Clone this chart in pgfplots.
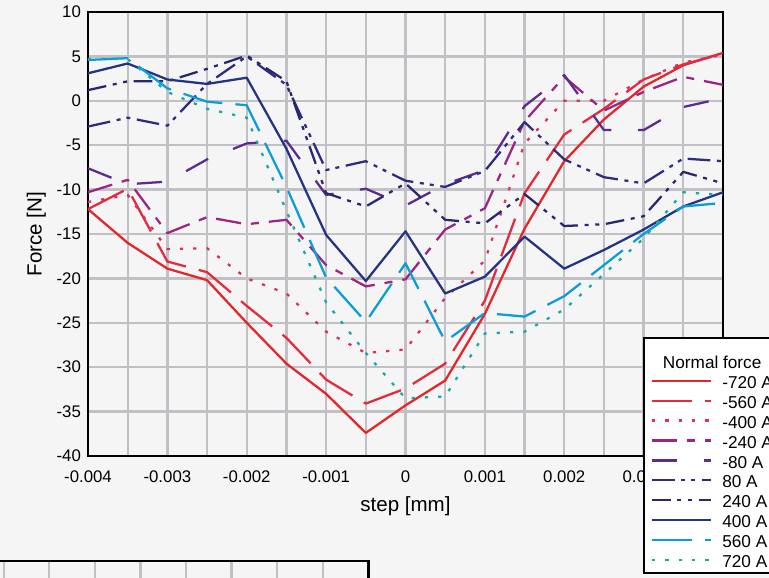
\documentclass[border=0pt]{standalone}
\usepackage{pgfplots}
\usepackage{pgfplotstable}
\pgfplotsset{compat=1.18}
\usepackage{fontspec}
\setmainfont{Liberation Sans}

\definecolor{bgcol}{HTML}{F5F5F5}
\definecolor{gridcol}{HTML}{C0C0C5}
\definecolor{cM720}{HTML}{E3262A}
\definecolor{cM560}{HTML}{E32B3B}
\definecolor{cM400}{HTML}{DA2E64}
\definecolor{cM240}{HTML}{9E2484}
\definecolor{cM80}{HTML}{5B2C8C}
\definecolor{cP80}{HTML}{2E2C7E}
\definecolor{cP240}{HTML}{28276F}
\definecolor{cP400}{HTML}{223482}
\definecolor{cP560}{HTML}{0C9DD9}
\definecolor{cP720}{HTML}{17A8A8}

\pgfplotstableread{
x       m720  m560  m400  m240  m80   p80   p240  p400  p560  p720
-0.004  -12.2 -12.2 -11.4 -10.3 -7.6  -2.9  1.2   3.1   4.6   4.7
-0.0035 -16.0 -9.9  -10.6 -8.9  -9.4  -1.9  2.2   4.2   4.8   4.7
-0.003  -18.9 -18.1 -16.7 -14.9 -9.1  -2.8  2.2   2.4   1.4   1.0
-0.0025 -20.2 -19.3 -16.6 -13.1 -6.6  1.9   3.6   1.9   -0.1  -0.9
-0.002  -25.0 -23.1 -20.0 -13.9 -4.8  5.0   5.1   2.6   -0.5  -1.9
-0.0015 -29.6 -26.7 -21.7 -13.4 -4.5  1.8   2.2   -5.4  -9.7  -12.4
-0.001  -33.0 -31.4 -26.0 -18.5 -10.6 -7.8  -10.4 -15.1 -19.9 -22.7
-0.0005 -37.4 -34.1 -28.4 -20.9 -9.9  -6.8  -11.9 -20.3 -24.9 -28.4
0       -34.3 -32.4 -28.0 -20.1 -11.8 -9.0  -9.3  -14.7 -18.3 -33.5
0.0005  -31.5 -29.6 -22.2 -14.5 -9.4  -9.7  -13.4 -21.7 -27.1 -33.3
0.001   -24.0 -22.5 -18.0 -12.1 -7.8  -7.9  -13.8 -19.8 -23.9 -26.2
0.0015  -14.4 -10.4 -4.8  -2.3  -0.6  -2.4  -10.5 -15.3 -24.3 -26.0
0.002   -6.8  -3.8  0.0   2.7   2.9   -6.6  -14.1 -18.9 -22.0 -23.5
0.0025  -2.1  -0.9  0.0   -1.1  -3.3  -8.6  -13.9 -16.8 -18.5 -19.5
0.003   1.6   2.4   2.4   1.0   -3.3  -9.3  -13.0 -14.5 -15.0 -15.5
0.0035  4.0   4.1   4.3   2.7   -0.7  -6.5  -8.0  -11.9 -11.9 -10.3
0.004   5.4   5.3   5.2   1.8   0.3   -6.8  -9.3  -10.3 -11.5 -10.6
}\forcedata

\begin{document}
\begin{tikzpicture}[x=1pt,y=1pt]
\useasboundingbox (0,0) rectangle (576.75,433.5);
\clip (0,0) rectangle (576.75,433.5);
\fill[bgcol] (0,0) rectangle (576.75,433.5);

% partial second chart at bottom left
\begin{axis}[
  at={(276.25pt,12.75pt)}, anchor=north east,
  scale only axis, width=341.9pt, height=60pt,
  xmin=-2, xmax=8, ymin=0, ymax=1,
  xtick={-2,-1,...,8}, ytick=\empty, xticklabels={},
  major tick length=0pt,
  xmajorgrids,
  grid style={gridcol, line width=1.7pt},
  axis line style={black, line width=1.8pt},
]
\end{axis}

\begin{axis}[
  at={(66pt,91.5pt)}, anchor=south west,
  scale only axis, width=476.25pt, height=333pt,
  xmin=-0.004, xmax=0.004, ymin=-40, ymax=10,
  scaled x ticks=false,
  xtick={-0.004,-0.003,-0.002,-0.001,0,0.001,0.002,0.003,0.004},
  xticklabels={-0.004,-0.003,-0.002,-0.001,0,0.001,0.002,0.003,0.004},
  minor x tick num=1,
  ytick={-40,-35,-30,-25,-20,-15,-10,-5,0,5,10},
  yticklabels={-40,-35,-30,-25,-20,-15,-10,-5,0,5,10},
  major tick length=0pt, minor tick length=0pt,
  grid=both,
  grid style={gridcol, line width=1.7pt},
  minor grid style={gridcol, line width=1.7pt},
  axis line style={black, line width=1.8pt},
  ticklabel style={font=\fontsize{12.6}{14}\selectfont},
  xticklabel style={yshift=-7.3pt},
  yticklabel style={xshift=-1.8pt},
  xlabel={step [mm]},
  ylabel={Force [N]},
  label style={font=\fontsize{15.4}{17}\selectfont},
  xlabel style={at={(axis description cs:0.5,-0.1254)}, anchor=base},
  ylabel style={at={(axis description cs:-0.0729,0.5)}, anchor=base},
  legend image code/.code={\draw[#1] (0pt,2pt) -- (44pt,2pt);},
  legend style={
    at={(axis description cs:0.8745,0.268)}, anchor=north west,
    draw=black, line width=1.5pt, fill=white,
    font=\fontsize{12.9}{15}\selectfont,
    inner xsep=5pt, inner ysep=1pt,
    row sep=0.4pt,
    /tikz/every odd column/.append style={column sep=5.8pt},
  },
  legend cell align=left,
  every axis plot/.append style={line width=1.7pt, line join=round},
]
\addlegendimage{empty legend}
\addlegendentry{\hspace*{-44.5pt}\raisebox{0pt}[20pt][0pt]{Normal force}}
\addplot[cM720] table[x=x,y=m720] {\forcedata};
\addlegendentry{-720 A}
\addplot[cM560, dash pattern=on 30pt off 10pt] table[x=x,y=m560] {\forcedata};
\addlegendentry{-560 A}
\addplot[cM400, dash pattern=on 2.4pt off 7.6pt] table[x=x,y=m400] {\forcedata};
\addlegendentry{-400 A}
\addplot[cM240, dash pattern=on 19pt off 7.5pt on 6pt off 7.5pt] table[x=x,y=m240] {\forcedata};
\addlegendentry{-240 A}
\addplot[cM80, dash pattern=on 19pt off 20pt] table[x=x,y=m80] {\forcedata};
\addlegendentry{-80 A}
\addplot[cP80, dash pattern=on 17pt off 5pt on 3pt off 4.5pt on 3pt off 5pt] table[x=x,y=p80] {\forcedata};
\addlegendentry{80 A}
\addplot[cP240, dash pattern=on 14pt off 5pt on 3pt off 5pt on 3pt off 5pt] table[x=x,y=p240] {\forcedata};
\addlegendentry{240 A}
\addplot[cP400] table[x=x,y=p400] {\forcedata};
\addlegendentry{400 A}
\addplot[cP560, dash pattern=on 30pt off 10pt] table[x=x,y=p560] {\forcedata};
\addlegendentry{560 A}
\addplot[cP720, dash pattern=on 2.4pt off 7.6pt] table[x=x,y=p720] {\forcedata};
\addlegendentry{720 A}
\end{axis}
\end{tikzpicture}
\end{document}
